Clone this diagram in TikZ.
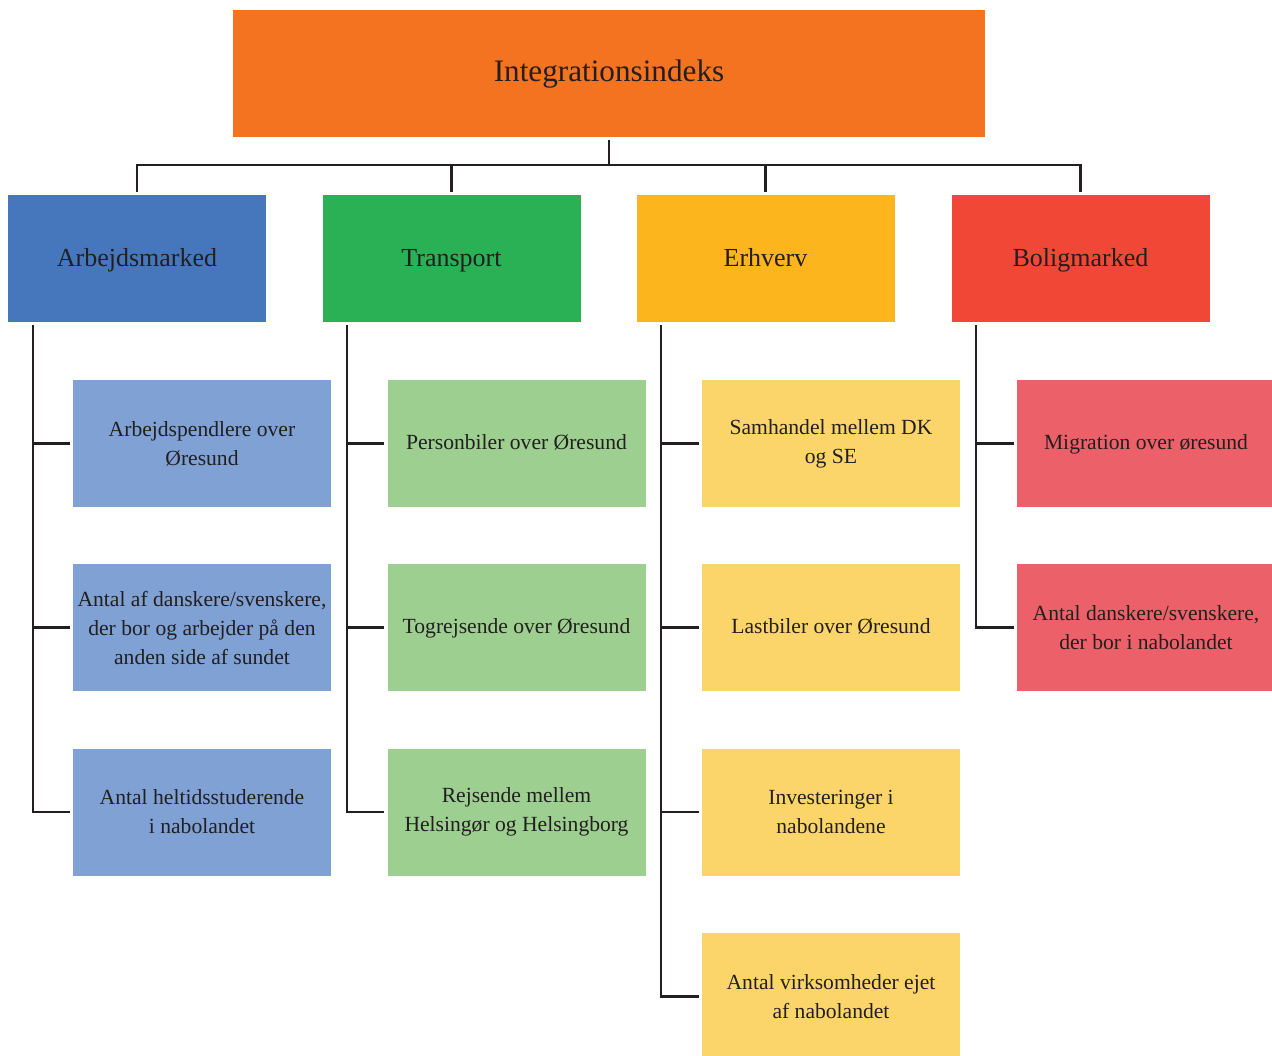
\documentclass[tikz,border=0pt]{standalone}
\usepackage{fontspec}
\setmainfont{Liberation Serif}
\definecolor{txt}{HTML}{231F20}
\definecolor{cOrange}{HTML}{F47321}
\definecolor{cBlue}{HTML}{4677BD}
\definecolor{cGreen}{HTML}{2AB055}
\definecolor{cYellow}{HTML}{FCB51C}
\definecolor{cRed}{HTML}{F04736}
\definecolor{lBlue}{HTML}{7FA1D4}
\definecolor{lGreen}{HTML}{9CCF90}
\definecolor{lYellow}{HTML}{FCD56A}
\definecolor{lRed}{HTML}{EC6169}
\tikzset{
  box/.style={rectangle, inner sep=0pt, minimum width=129pt, minimum height=63.5pt, align=center, text=txt},
  oneline/.style={text height=1.0em, text depth=0.22em},
  leafline/.style={text height=0.86em, text depth=0.22em},
  topbox/.style={box, oneline, fill=cOrange, minimum width=376pt, font=\fontsize{15.6}{19}\selectfont},
  headbox/.style={box, oneline, font=\fontsize{13}{16}\selectfont},
  leafbox/.style={box, font=\fontsize{10.8}{14.5}\selectfont},
  conn/.style={draw=txt, line width=1.1pt, shorten <=1.5pt, shorten >=1.5pt},
}
\begin{document}
\begin{tikzpicture}[x=0.5pt,y=-0.5pt]
\clip (0,0) rectangle (1272,1055);
\fill[white] (0,0) rectangle (1272,1055);
% top
\node[topbox] (top) at (609,73.5) {Integrationsindeks};
% heads
\node[headbox, fill=cBlue]   (a) at (137,258.5)   {Arbejdsmarked};
\node[headbox, fill=cGreen]  (t) at (451.5,258.5) {Transport};
\node[headbox, fill=cYellow] (e) at (765.5,258.5) {Erhverv};
\node[headbox, fill=cRed]    (b) at (1080.5,258.5){Boligmarked};
% leaves col 1
\node[leafbox, fill=lBlue] (a1) at (202,443.5) {Arbejdspendlere over\\Øresund};
\node[leafbox, fill=lBlue] (a2) at (202,627.5) {Antal af danskere/svenskere,\\der bor og arbejder på den\\anden side af sundet};
\node[leafbox, fill=lBlue] (a3) at (202,812) {Antal heltidsstuderende\\i nabolandet};
% col 2
\node[leafbox, leafline, fill=lGreen] (t1) at (516.5,443.5) {Personbiler over Øresund};
\node[leafbox, leafline, fill=lGreen] (t2) at (516.5,627.5) {Togrejsende over Øresund};
\node[leafbox, fill=lGreen] (t3) at (516.5,812) {Rejsende mellem\\Helsingør og Helsingborg};
% col 3
\node[leafbox, fill=lYellow] (e1) at (831,443.5) {Samhandel mellem DK\\og SE};
\node[leafbox, leafline, fill=lYellow] (e2) at (831,627.5) {Lastbiler over Øresund};
\node[leafbox, fill=lYellow] (e3) at (831,812) {Investeringer i\\nabolandene};
\node[leafbox, fill=lYellow] (e4) at (831,996.5) {Antal virksomheder ejet\\af nabolandet};
% col 4
\node[leafbox, leafline, fill=lRed] (b1) at (1146,443.5) {Migration over øresund};
\node[leafbox, fill=lRed] (b2) at (1146,627.5) {Antal danskere/svenskere,\\der bor i nabolandet};
% top connectors
\coordinate (bus) at (609,165);
\draw[conn, shorten >=0pt] (top.south) -- (bus);
\foreach \n in {a,t,e,b}{
  \draw[conn, shorten <=0pt] (bus) -| (\n.north);
}
% trunks
\foreach \h/\leaves in {a/{a1,a2,a3}, t/{t1,t2,t3}, e/{e1,e2,e3,e4}, b/{b1,b2}}{
  \foreach \l in \leaves {
    \draw[conn] ([xshift=12.5pt]\h.south west) |- (\l.west);
  }
}
\end{tikzpicture}
\end{document}
